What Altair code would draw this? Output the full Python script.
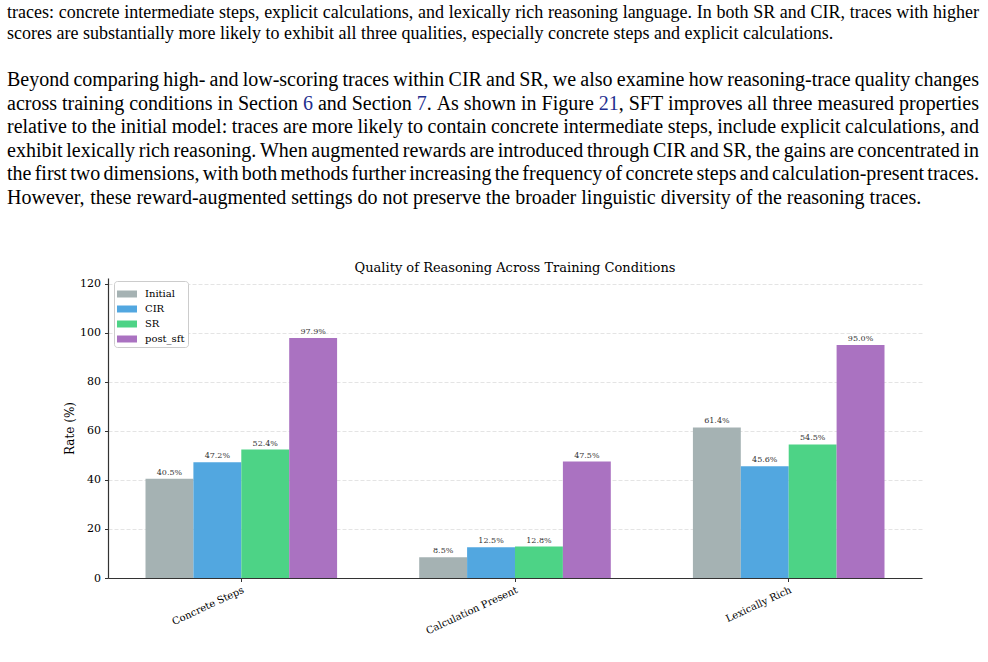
import re
import altair as alt
import pandas as pd

# ---------------- data ----------------
categories = ["Concrete Steps", "Calculation Present", "Lexically Rich"]
conditions = ["Initial", "CIR", "SR", "post_sft"]
initial = [40.5, 8.5, 61.4]
cir = [47.2, 12.5, 45.6]
sr = [52.4, 12.8, 54.5]
post_sft = [97.9, 47.5, 95.0]
y_ticks = [0, 20, 40, 60, 80, 100, 120]
colors = ["#a5b2b3", "#52a7e0", "#4dd386", "#aa72c1"]

chart_title = "Quality of Reasoning Across Training Conditions"

# page text around the figure; [..] marks a hyperlink (blue)
caption_lines = [
    "traces: concrete intermediate steps, explicit calculations, and lexically rich reasoning language. In both SR and CIR, traces with higher",
    "scores are substantially more likely to exhibit all three qualities, especially concrete steps and explicit calculations.",
]
body_lines = [
    "Beyond comparing high- and low-scoring traces within CIR and SR, we also examine how reasoning-trace quality changes",
    "across training conditions in Section [6] and Section [7]. As shown in Figure [21], SFT improves all three measured properties",
    "relative to the initial model: traces are more likely to contain concrete intermediate steps, include explicit calculations, and",
    "exhibit lexically rich reasoning. When augmented rewards are introduced through CIR and SR, the gains are concentrated in",
    "the first two dimensions, with both methods further increasing the frequency of concrete steps and calculation-present traces.",
    "However, these reward-augmented settings do not preserve the broader linguistic diversity of the reasoning traces.",
]

series = {"Initial": initial, "CIR": cir, "SR": sr, "post_sft": post_sft}
rows = []
for cond in conditions:
    for cat, v in zip(categories, series[cond]):
        rows.append({"category": cat, "condition": cond, "value": v, "label": f"{v:.1f}%"})
df = pd.DataFrame(rows)

# ---------------- layout ----------------
W, H = 814, 300
LEFT, TOP = 108, 278
SERIF = "DejaVu Serif"
PAGE = "Liberation Serif"
LINK = "#1f2f8f"

# Times / Liberation Serif advance widths (1/1000 em) for justified page text
TW = {" ": 250, "!": 333, "%": 833, "(": 333, ")": 333, ",": 250, "-": 333, ".": 250,
      ":": 278, ";": 278, "?": 444, "_": 500,
      "A": 722, "B": 667, "C": 667, "D": 722, "E": 611, "F": 556, "G": 722, "H": 722,
      "I": 333, "J": 389, "K": 722, "L": 611, "M": 889, "N": 722, "O": 722, "P": 556,
      "Q": 722, "R": 667, "S": 556, "T": 611, "U": 722, "V": 722, "W": 944, "X": 722,
      "Y": 722, "Z": 611,
      "a": 444, "b": 500, "c": 444, "d": 500, "e": 444, "f": 333, "g": 500, "h": 500,
      "i": 278, "j": 278, "k": 500, "l": 278, "m": 778, "n": 500, "o": 500, "p": 500,
      "q": 500, "r": 333, "s": 389, "t": 278, "u": 500, "v": 500, "w": 722, "x": 500,
      "y": 500, "z": 444}


def tw(s, size):
    return sum(TW.get(c, 500) for c in s) / 1000.0 * size


one = pd.DataFrame({"k": [0]})


def line_marks(line, baseline_y, size, justify, x0=7, x1=979):
    words = line.split(" ")
    plain = [w.replace("[", "").replace("]", "") for w in words]
    widths = [tw(p, size) for p in plain]
    if justify and len(words) > 1:
        gap = (x1 - x0 - sum(widths)) / (len(words) - 1)
    else:
        gap = tw(" ", size)
    out = []
    x = x0
    for w, wd in zip(words, widths):
        fx = x
        for frag in re.split(r"(\[[^\]]*\])", w):
            if not frag:
                continue
            if frag.startswith("["):
                t, col = frag[1:-1], LINK
            else:
                t, col = frag, "#000"
            out.append(
                alt.Chart(one)
                .mark_text(align="left", baseline="alphabetic", font=PAGE, fontSize=size, color=col)
                .encode(x=alt.value(fx - LEFT), y=alt.value(baseline_y - TOP), text=alt.value(t))
            )
            fx += tw(t, size)
        x += wd + gap
    return out


page_layers = []
for i, ln in enumerate(caption_lines):
    page_layers += line_marks(ln, 17.5 + 21 * i, 18, justify=(i < len(caption_lines) - 1))
for i, ln in enumerate(body_lines):
    page_layers += line_marks(ln, 86 + 23.6 * i, 20, justify=(i < len(body_lines) - 1))

base = alt.Chart(df).encode(
    x=alt.X(
        "category:N",
        sort=categories,
        scale=alt.Scale(paddingInner=0.3, paddingOuter=0.137),
        axis=alt.Axis(
            title=None,
            labelAngle=335,
            labelAlign="right",
            labelBaseline="top",
            labelFont=SERIF,
            labelFontSize=10,
            labelColor="#000",
            labelPadding=3,
            tickSize=3.5,
            tickColor="#333",
            domainColor="#333",
            domainWidth=1.2,
            grid=False,
        ),
    ),
    xOffset=alt.XOffset(
        "condition:N", sort=conditions, scale=alt.Scale(paddingInner=0, paddingOuter=0)
    ),
)

bars = base.mark_bar().encode(
    y=alt.Y(
        "value:Q",
        scale=alt.Scale(domain=[0, 122.375], nice=False, zero=True),
        axis=alt.Axis(
            values=y_ticks,
            title="Rate (%)",
            titleFont=SERIF,
            titleFontSize=12,
            titleFontWeight="normal",
            titleColor="#000",
            titlePadding=3,
            labelFont=SERIF,
            labelFontSize=11,
            labelColor="#000",
            labelPadding=4,
            tickSize=3.5,
            tickColor="#333",
            domainColor="#333",
            domainWidth=1.2,
            grid=True,
            gridColor="#dddddd",
            gridDash=[4, 2],
            gridWidth=0.8,
        ),
    ),
    color=alt.Color(
        "condition:N",
        sort=conditions,
        scale=alt.Scale(domain=conditions, range=colors),
        legend=alt.Legend(
            title=None,
            orient="none",
            legendX=6,
            legendY=3,
            labelFont=SERIF,
            labelFontSize=10,
            labelColor="#000",
            symbolType="M-1,-0.35L1,-0.35L1,0.35L-1,0.35Z",
            symbolSize=400,
            symbolStrokeWidth=0,
            symbolOpacity=1,
            labelOffset=8,
            rowPadding=0,
            padding=3,
            fillColor="white",
            strokeColor="#cccccc",
            cornerRadius=3,
        ),
    ),
)

value_labels = base.mark_text(
    baseline="bottom", dy=-2, font=SERIF, fontSize=8, color="#333"
).encode(y="value:Q", text="label:N")

title_mark = alt.Chart(one).mark_text(
    align="center", baseline="alphabetic", font=SERIF, fontSize=13, color="#000"
).encode(x=alt.value(W / 2), y=alt.value(272 - TOP), text=alt.value(chart_title))

chart = (
    alt.layer(bars, value_labels, title_mark, *page_layers)
    .properties(
        width=W,
        height=H,
        padding={"left": LEFT, "top": TOP, "right": 988 - LEFT - W, "bottom": 662 - TOP - H},
        autosize=alt.AutoSizeParams(type="none"),
    )
    .configure_view(stroke=None)
)

chart.save("out.html", embed_options={"renderer": "svg", "actions": False})
